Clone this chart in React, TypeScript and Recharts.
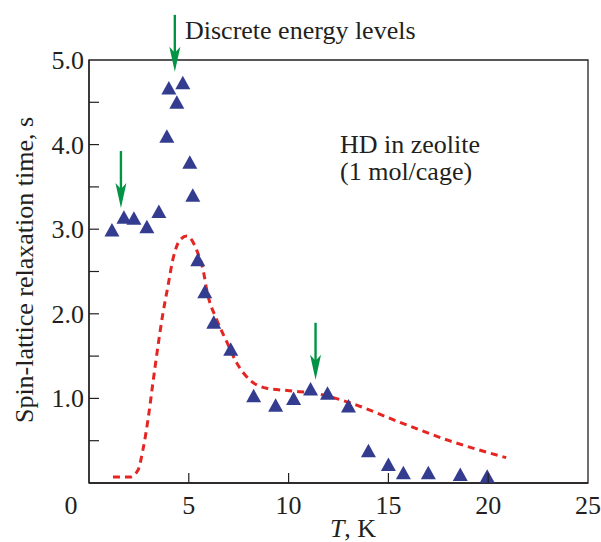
import {
  ComposedChart,
  Line,
  ReferenceArea,
  Scatter,
  XAxis,
  YAxis,
} from "recharts";

// measured T1 (s) vs temperature (K)
const tempK = [1.15, 1.75, 2.25, 2.9, 3.5, 3.9, 4.0, 4.4, 4.7, 5.05, 5.2, 5.45, 5.8, 6.25, 7.1, 8.25, 9.35, 10.25, 11.1, 11.95, 13.0, 14.0, 15.0, 15.75, 17.0, 18.6, 19.95];
const relaxTime = [2.99, 3.14, 3.13, 3.03, 3.21, 4.1, 4.67, 4.5, 4.73, 3.79, 3.4, 2.64, 2.26, 1.9, 1.58, 1.03, 0.92, 1.0, 1.11, 1.06, 0.91, 0.38, 0.22, 0.12, 0.12, 0.1, 0.08];

// theory curve (dashed)
const curveT = [1.2, 2.05, 2.45, 2.7, 2.95, 3.2, 3.45, 3.7, 3.95, 4.2, 4.55, 4.9, 5.4, 5.75, 5.9, 6.4, 6.9, 7.4, 8.05, 8.9, 10.05, 11.55, 13.05, 15.55, 18.05, 20.9];
const curveY = [0.07, 0.07, 0.15, 0.39, 0.74, 1.18, 1.61, 2.0, 2.32, 2.64, 2.87, 2.92, 2.75, 2.48, 2.28, 1.93, 1.67, 1.42, 1.22, 1.12, 1.09, 1.05, 0.95, 0.72, 0.5, 0.3];

// arrows marking discrete energy levels (tip position)
const arrowT = [4.3, 1.6, 11.35];
const arrowY = [4.86, 3.25, 1.22];

const xTicks = [0, 5, 10, 15, 20, 25];
const yTicks = [0, 0.5, 1, 1.5, 2, 2.5, 3, 3.5, 4, 4.5, 5];

const points = tempK.map((t, i) => ({ t, y: relaxTime[i] }));
const curve = curveT.map((t, i) => ({ t, y: curveY[i] }));
const arrows = arrowT.map((t, i) => ({ t, y: arrowY[i] }));

const FONT = "'Liberation Serif', 'Times New Roman', serif";
const INK = "#231f20";
const NAVY = "#333c8f";
const RED = "#e52521";
const GREEN = "#009444";

function Triangle(props: any) {
  const { cx, cy } = props;
  if (cx == null || cy == null) return null;
  return (
    <polygon
      points={`${cx},${cy - 7} ${cx - 7.5},${cy + 6.5} ${cx + 7.5},${cy + 6.5}`}
      fill={NAVY}
    />
  );
}

function Arrow(props: any) {
  const { cx, cy } = props;
  if (cx == null || cy == null) return null;
  return (
    <g>
      <line x1={cx} y1={cy - 57} x2={cx} y2={cy - 18} stroke={GREEN} strokeWidth={2.4} />
      <polygon
        points={`${cx},${cy} ${cx - 5.5},${cy - 25} ${cx},${cy - 19} ${cx + 5.5},${cy - 25}`}
        fill={GREEN}
      />
    </g>
  );
}

function XTick(props: any) {
  const { x, y, payload } = props;
  const v = payload.value;
  const inner = v > 0 && v < 25;
  return (
    <g>
      {inner && <line x1={x} y1={y} x2={x} y2={y - 10} stroke={INK} strokeWidth={1.2} />}
      <text
        x={v === 0 ? x - 18 : x}
        y={y + 31}
        textAnchor="middle"
        fontFamily={FONT}
        fontSize={26}
        fill={INK}
      >
        {v}
      </text>
    </g>
  );
}

function YTick(props: any) {
  const { x, y, payload } = props;
  const v = payload.value;
  const inner = v > 0 && v < 5;
  const labeled = v > 0 && Number.isInteger(v);
  return (
    <g>
      {inner && <line x1={x} y1={y} x2={x + 10} y2={y} stroke={INK} strokeWidth={1.2} />}
      {labeled && (
        <text
          x={x - 5}
          y={y + 9}
          textAnchor="end"
          fontFamily={FONT}
          fontSize={26}
          fill={INK}
        >
          {v.toFixed(1)}
        </text>
      )}
    </g>
  );
}

export default function App() {
  return (
    <div style={{ position: "absolute", left: 0, top: 0, width: 601, height: 542, background: "#fff" }}>
      <ComposedChart
        width={601}
        height={542}
        margin={{ top: 60, right: 13, bottom: 29, left: 29 }}
      >
        <XAxis
          dataKey="t"
          type="number"
          domain={[0, 25]}
          ticks={xTicks}
          tick={<XTick />}
          tickLine={false}
          tickSize={0}
          tickMargin={0}
          height={30}
          stroke={INK}
          strokeWidth={1.3}
          allowDuplicatedCategory={false}
        />
        <YAxis
          dataKey="y"
          type="number"
          domain={[0, 5]}
          ticks={yTicks}
          tick={<YTick />}
          tickLine={false}
          tickSize={0}
          tickMargin={0}
          width={60}
          stroke={INK}
          strokeWidth={1.3}
        />
        <ReferenceArea x1={0} x2={25} y1={0} y2={5} fill="none" stroke={INK} strokeWidth={1.3} />
        <Line
          data={curve}
          dataKey="y"
          type="monotone"
          stroke={RED}
          strokeWidth={3}
          strokeDasharray="7 5"
          dot={false}
          activeDot={false}
          isAnimationActive={false}
        />
        <Scatter data={points} dataKey="y" shape={<Triangle />} isAnimationActive={false} />
        <Scatter data={arrows} dataKey="y" shape={<Arrow />} isAnimationActive={false} />
      </ComposedChart>
      <svg
        width={601}
        height={542}
        style={{ position: "absolute", left: 0, top: 0, pointerEvents: "none" }}
      >
        <g fontFamily={FONT} fontSize={26} fill={INK}>
          <text x={185} y={39}>Discrete energy levels</text>
          <text x={340} y={153}>HD in zeolite</text>
          <text x={340} y={180}>(1 mol/cage)</text>
          <text x={353} y={537} textAnchor="middle">
            <tspan fontStyle="italic">T</tspan>, K
          </text>
          <text x={0} y={0} textAnchor="middle" transform="translate(33 270) rotate(-90)">
            Spin-lattice relaxation time, s
          </text>
        </g>
      </svg>
    </div>
  );
}
